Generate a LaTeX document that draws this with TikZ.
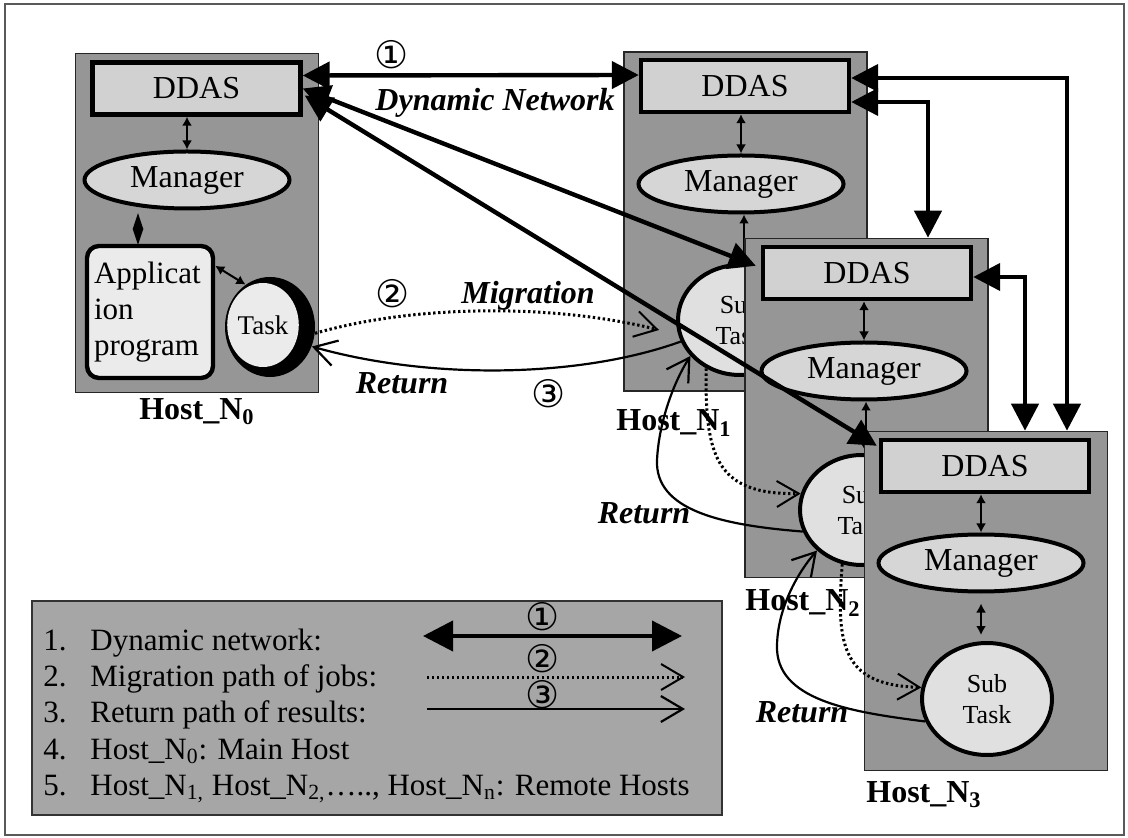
\documentclass[tikz,border=0pt]{standalone}
\usepackage{fontspec}
\setmainfont{Liberation Serif}
\newfontfamily\circfont{DejaVu Sans}
\usetikzlibrary{arrows.meta,shapes.geometric,calc}

\definecolor{hostfill}{gray}{0.59}
\definecolor{ddasfill}{gray}{0.82}
\definecolor{mgrfill}{gray}{0.84}
\definecolor{subfill}{gray}{0.88}
\definecolor{appfill}{gray}{0.92}
\definecolor{legendfill}{gray}{0.65}
\definecolor{framegray}{gray}{0.35}

\tikzset{
  host/.style={draw=black!85, line width=0.8pt, fill=hostfill,
    minimum width=121.5pt, minimum height=169.5pt, inner sep=0pt},
  ddas/.style={draw=black, line width=2.2pt, fill=ddasfill,
    minimum width=104pt, minimum height=26pt, inner sep=0pt,
    font=\fontsize{16}{19}\selectfont},
  mgr/.style={ellipse, draw=black, line width=2pt, fill=mgrfill,
    minimum width=102.5pt, minimum height=28.5pt, inner sep=0pt,
    font=\fontsize{16}{19}\selectfont},
  subtask/.style={ellipse, draw=black, line width=2pt, fill=subfill,
    minimum width=62pt, minimum height=55pt, inner sep=0pt, align=center,
    font=\fontsize{13}{15.5}\selectfont},
  hostname/.style={font=\bfseries\fontsize{16}{19}\selectfont},
  pathlabel/.style={font=\bfseries\itshape\fontsize{16}{19}\selectfont},
  circnum/.style={font=\circfont\fontsize{19}{22}\selectfont, inner sep=0pt},
  legtext/.style={anchor=base west, inner sep=0pt,
    font=\fontsize{15.5}{18}\selectfont},
  netlink/.style={line width=2.2pt,
    {Triangle[length=13.5pt,width=13.5pt]}-{Triangle[length=13.5pt,width=13.5pt]}},
  legnet/.style={line width=2pt,
    {Triangle[length=15pt,width=15pt]}-{Triangle[length=15pt,width=15pt]}},
  locallink/.style={line width=1pt,
    {Latex[length=4.5pt,width=5pt]}-{Latex[length=4.5pt,width=5pt]}},
  migpath/.style={line width=1.5pt, dash pattern=on 1.2pt off 1.3pt,
    -{Straight Barb[length=11pt,width=13pt,line width=1pt]}},
  retpath/.style={line width=1.1pt, -{Straight Barb[length=11pt,width=13pt]}},
}

\begin{document}
\begin{tikzpicture}[x=0.5pt,y=-0.5pt]
\useasboundingbox (0,0) rectangle (1128,838);
\draw[framegray, line width=1pt] (5,4) rectangle (1124,835);

% ---------- Host_N0 (main host) ----------
\node[host] (h0) at (197,223) {};
\node[ddas] (d0) at (196.5,88.5) {DDAS};
\node[mgr] (m0) at (187,180) {Manager};
\node[draw=black, line width=2.2pt, rounded corners=6pt, fill=appfill,
      minimum width=63pt, minimum height=66pt, text width=56pt, align=left,
      inner sep=0pt, font=\fontsize{15.5}{18}\selectfont]
      (app) at (150,312) {Applicat\\ion\\program};
\node[ellipse, fill=black, minimum width=45pt, minimum height=50pt,
      inner sep=0pt] (t0) at (270,327) {};
\node[ellipse, fill=appfill, minimum width=31pt, minimum height=42pt,
      inner sep=0pt, font=\fontsize{13.5}{15}\selectfont] (t0in) at (263,325) {Task};
\node[diamond, fill=black, minimum width=5.5pt, minimum height=16pt,
      inner sep=0pt] (dia0) at (138,229) {};
\draw[locallink] (m0.north) -- (m0.north |- d0.south);
\draw[locallink] ($(app.north east)+(0,22)$) -- (t0.120);
\node[hostname] (l0) at (197,412) {Host\_N\textsubscript{0}};

% ---------- Host_N1 ----------
\node[host] (h1) at (745.5,221.5) {};
\node[ddas] (d1) at (745,86) {DDAS};
\node[mgr] (m1) at (741,184) {Manager};
\node[subtask] (s1) at (740,320) {Sub\\Task};
\draw[locallink] (m1.north) -- (m1.north |- d1.south);
\draw[locallink] ($(m1.south)+(3,0)$) -- ($(s1.north)+(4,0)$);
\node[hostname] (l1) at (674,423) {Host\_N\textsubscript{1}};

% ---------- Host_N2 ----------
\node[host] (h2) at (866.5,408) {};
\node[ddas] (d2) at (867,273) {DDAS};
\node[mgr] (m2) at (864,371) {Manager};
\node[subtask] (s2) at (862,510) {Sub\\Task};
\draw[locallink] (m2.north) -- (m2.north |- d2.south);
\draw[locallink] ($(m2.south)+(2,0)$) -- ($(s2.north)+(4,0)$);
\node[hostname] (l2) at (803,603) {Host\_N\textsubscript{2}};

% ---------- Host_N3 ----------
\node[host] (h3) at (986,601) {};
\node[ddas] (d3) at (985,466) {DDAS};
\node[mgr] (m3) at (981,563) {Manager};
\node[subtask, minimum width=65pt, minimum height=56pt] (s3) at (987,699) {Sub\\Task};
\draw[locallink] (m3.north) -- (m3.north |- d3.south);
\draw[locallink, shorten <=5pt, shorten >=3pt] (m3.south) -- (m3.south |- s3.north);
\node[hostname] (l3) at (924,795) {Host\_N\textsubscript{3}};

% ---------- legend ----------
\node[draw=black!80, line width=1pt, fill=legendfill, minimum width=345pt,
      minimum height=107pt, inner sep=0pt] (legend) at (377,708) {};
\node[legtext] (n1) at (43,650) {1.};
\node[legtext] (e1) at (90,650) {Dynamic network:};
\node[legtext] (n2) at (43,686) {2.};
\node[legtext] (e2) at (90,686) {Migration path of jobs:};
\node[legtext] (n3) at (43,722) {3.};
\node[legtext] (e3) at (90,722) {Return path of results:};
\node[legtext] (n4) at (43,759) {4.};
\node[legtext] (e4) at (90,759) {Host\_N\textsubscript{0}: Main Host};
\node[legtext] (n5) at (43,795) {5.};
\node[legtext] (e5) at (90,795) {Host\_N\textsubscript{1,} Host\_N\textsubscript{2,}…..,
  Host\_N\textsubscript{n}: Remote Hosts};
\coordinate (a1s) at (423,636); \coordinate (a1e) at (682,636);
\coordinate (a2s) at (427,677); \coordinate (a2e) at (685,677);
\coordinate (a3s) at (427,709); \coordinate (a3e) at (685,709);
\draw[legnet] (a1s) -- (a1e);
\draw[migpath] (a2s) -- (a2e);
\draw[retpath] (a3s) -- (a3e);
\node[circnum] (c1) at (543,617) {①};
\node[circnum] (c2) at (543,659) {②};
\node[circnum] (c3) at (543,695) {③};

% ---------- dynamic network between the DDAS boxes ----------
\draw[netlink] ($(d0.east)+(0,-13)$) -- ($(d1.west)+(0,-11)$);
\draw[netlink] (d0.east) -- ($(d2.north west)+(-5,21)$);
\draw[netlink] ($(d0.east)+(2,7)$) -- ($(d3.north west)+(-2,8)$);
\draw[netlink] ($(d1.east)+(0,-8)$) -| ($(h3.north)+(81,0)$);
\draw[netlink] ($(d1.east)+(0,16)$) -| ($(h2.north)+(61.5,0)$);
\draw[netlink] ($(d2.east)+(0,4)$) -| ($(h3.north)+(39,0)$);

% ---------- job migration and result return ----------
\coordinate (mig1) at ($(s1.west)+(-17,10)$);
\draw[migpath] (t0.-8) .. controls (420,303) and (560,305) .. (mig1);
\draw[retpath] (s1.200) .. controls (580,378) and (430,380) .. (t0.-25);
\draw[migpath] (s1.235) .. controls (705,455) and (715,495) .. (s2.165);
\draw[retpath] (s2.200) .. controls (720,525) and (655,510) .. (657,460)
                        .. controls (659,420) and (675,380) .. (s1.216);
\draw[migpath] (s2.250) .. controls (835,650) and (845,685) .. (s3.170);
\draw[retpath] (s3.200) .. controls (850,712) and (775,700) .. (777,645)
                        .. controls (778,605) and (800,570) .. (s2.222);

% ---------- path labels ----------
\node[circnum] (k1) at (392,55) {①};
\node[pathlabel] (dyn) at (495,103) {Dynamic Network};
\node[circnum] (k2) at (393,294) {②};
\node[pathlabel] (mig) at (528,296) {Migration};
\node[pathlabel] (ret1) at (402,383) {Return};
\node[circnum] (k3) at (549,394) {③};
\node[pathlabel] (ret2) at (644,513) {Return};
\node[pathlabel] (ret3) at (802,712) {Return};
\end{tikzpicture}
\end{document}
